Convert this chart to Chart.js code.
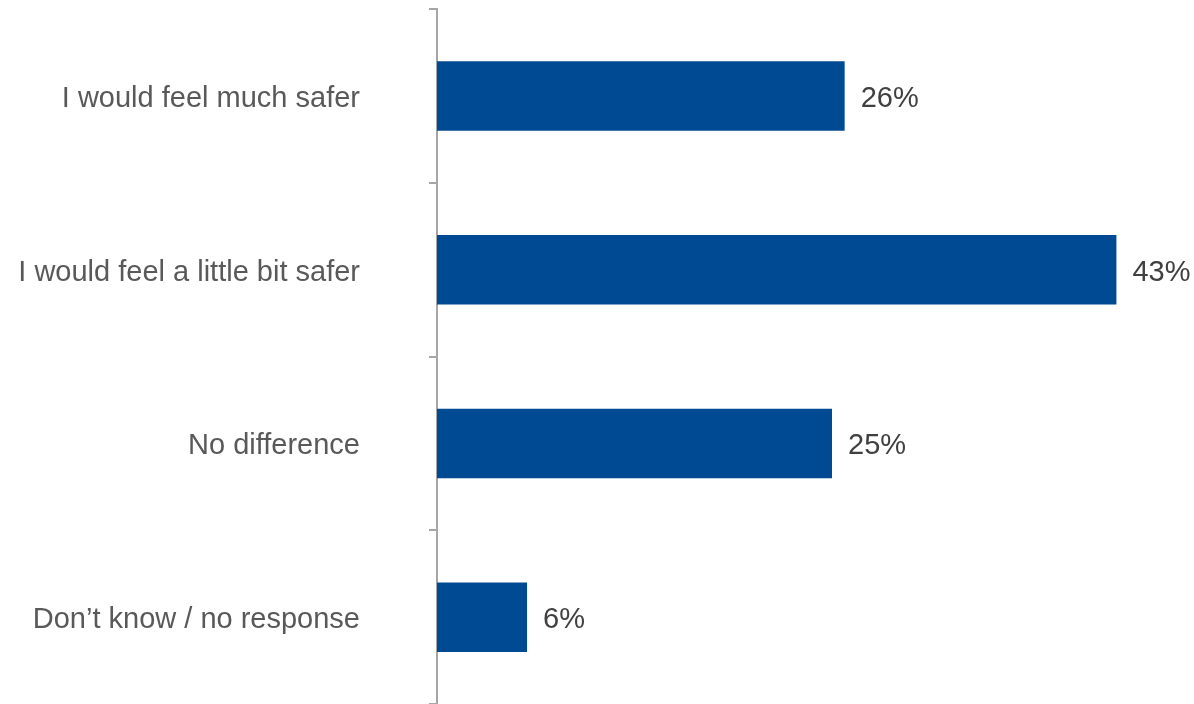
<!DOCTYPE html>
<html>
<head>
<meta charset="utf-8">
<script src="https://cdn.jsdelivr.net/npm/chart.js@4/dist/chart.umd.min.js"></script>
<style>
  html, body { margin: 0; padding: 0; background: #fff; }
  #wrap { width: 1194px; height: 704px; position: relative; }
</style>
</head>
<body>
<div id="wrap"><canvas id="myChart"></canvas></div>
<script>
// data
const categories = [
    'I would feel much safer',
    'I would feel a little bit safer',
    'No difference',
    'Don\u2019t know / no response'
];
const shares = [25.8, 43, 25, 5.7];
const shareLabels = ['26%', '43%', '25%', '6%'];

// draws the % text at the end of each bar
const barLabels = {
    id: 'barLabels',
    afterDatasetsDraw(chart) {
        const ctx = chart.ctx;
        const meta = chart.getDatasetMeta(0);
        ctx.save();
        ctx.font = '29px "Liberation Sans", Arial, sans-serif';
        ctx.fillStyle = '#404040';
        ctx.textAlign = 'left';
        ctx.textBaseline = 'middle';
        meta.data.forEach(function(bar, i) {
            ctx.fillText(shareLabels[i], bar.x + 16, bar.y + 3);
        });
        ctx.restore();
    }
};

var ctx = document.getElementById('myChart').getContext('2d');
var myChart = new Chart(ctx, {
    type: 'bar',
    data: {
        labels: categories,
        datasets: [{
            data: shares,
            backgroundColor: '#004a93',
            borderWidth: 0,
            categoryPercentage: 1,
            barPercentage: 0.4
        }]
    },
    plugins: [barLabels],
    options: {
        indexAxis: 'y',
        responsive: true,
        maintainAspectRatio: false,
        animation: false,
        layout: { padding: { top: 9, right: 46, bottom: 0, left: 0 } },
        plugins: {
            legend: { display: false },
            tooltip: { enabled: false }
        },
        scales: {
            x: {
                display: false,
                min: 0,
                max: 45
            },
            y: {
                afterFit: function(scale) {
                    scale.width = 437;
                    // tick padding should only push labels sideways
                    scale.paddingTop = 0;
                    scale.paddingBottom = 0;
                },
                border: { display: true, color: '#a6a6a6', width: 2 },
                grid: {
                    offset: true,
                    drawOnChartArea: false,
                    drawTicks: true,
                    tickLength: 8,
                    color: '#a6a6a6',
                    lineWidth: 2
                },
                ticks: {
                    padding: 69,
                    labelOffset: 3,
                    color: '#595959',
                    font: { family: '"Liberation Sans", Arial, sans-serif', size: 29 }
                }
            }
        }
    }
});
</script>
</body>
</html>
